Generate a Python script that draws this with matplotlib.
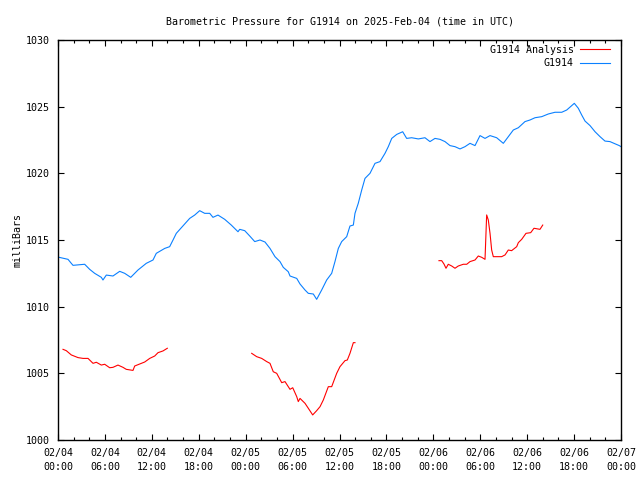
import numpy as np
import matplotlib
matplotlib.use("Agg")
import matplotlib.pyplot as plt
from matplotlib.ticker import MultipleLocator, FixedLocator

# hours since 02/04 00:00 UTC
station_hours = [0.0, 1.28, 1.70, 1.92, 3.41, 4.05, 4.69, 5.54, 5.75, 6.18, 7.03, 7.89, 8.53, 9.30,
                 10.23, 11.29, 12.15, 12.57, 13.65, 14.28, 14.71, 15.13, 16.20, 16.84, 17.48, 18.12,
                 18.76, 19.40, 19.82, 20.46, 21.32, 22.16, 23.02, 23.24, 23.88, 24.52, 25.16, 25.83,
                 26.47, 27.11, 27.75, 28.39, 28.81, 29.45, 29.67, 30.53, 30.95, 31.59, 32.01, 32.65,
                 33.08, 33.72, 34.36, 35.00, 35.42, 35.85, 36.28, 36.92, 37.34, 37.77, 37.98, 38.40,
                 38.84, 39.26, 39.90, 40.54, 41.18, 41.82, 42.24, 42.68, 43.32, 44.08, 44.59, 45.23,
                 46.08, 46.93, 47.57, 48.21, 48.85, 49.49, 50.13, 50.77, 51.41, 52.05, 52.69, 53.33,
                 53.97, 54.61, 55.25, 56.10, 56.95, 57.59, 58.23, 58.87, 59.72, 60.36, 61.00, 61.86,
                 62.70, 63.56, 64.42, 65.06, 65.70, 66.03, 66.54, 66.97, 67.40, 68.04, 68.68, 69.32,
                 69.95, 70.59, 71.10, 71.78, 72.0]
station_mb = [1013.72, 1013.55, 1013.25, 1013.1, 1013.18, 1012.8, 1012.5, 1012.2, 1012.0, 1012.37,
              1012.3, 1012.65, 1012.5, 1012.2, 1012.75, 1013.25, 1013.5, 1014.0, 1014.37, 1014.5,
              1015.0, 1015.5, 1016.2, 1016.62, 1016.87, 1017.2, 1017.0, 1017.0, 1016.7, 1016.87,
              1016.55, 1016.12, 1015.62, 1015.8, 1015.7, 1015.3, 1014.88, 1015.0, 1014.85, 1014.37,
              1013.75, 1013.38, 1012.95, 1012.62, 1012.3, 1012.12, 1011.7, 1011.25, 1011.0, 1010.95,
              1010.55, 1011.25, 1012.0, 1012.5, 1013.38, 1014.37, 1014.88, 1015.25, 1016.05, 1016.12,
              1017.0, 1017.75, 1018.75, 1019.62, 1020.0, 1020.75, 1020.88, 1021.5, 1022.0, 1022.62,
              1022.92, 1023.12, 1022.62, 1022.67, 1022.58, 1022.67, 1022.38, 1022.62, 1022.55, 1022.38,
              1022.08, 1022.0, 1021.83, 1022.0, 1022.25, 1022.08, 1022.83, 1022.62, 1022.83, 1022.67,
              1022.25, 1022.75, 1023.25, 1023.42, 1023.88, 1024.0, 1024.17, 1024.25, 1024.45, 1024.58,
              1024.58, 1024.75, 1025.08, 1025.25, 1024.88, 1024.38, 1023.92, 1023.58, 1023.12, 1022.75,
              1022.42, 1022.38, 1022.25, 1022.08, 1022.0]

analysis1_hours = [0.64, 1.06, 1.70, 2.56, 3.20, 3.84, 4.48, 4.90, 5.54, 5.97, 6.61, 7.03, 7.67, 8.31,
                   8.73, 9.59, 9.81, 10.45, 11.09, 11.73, 12.37, 12.79, 13.43, 13.98]
analysis1_mb = [1006.8, 1006.7, 1006.38, 1006.18, 1006.12, 1006.12, 1005.75, 1005.83, 1005.62, 1005.68,
                1005.42, 1005.45, 1005.62, 1005.45, 1005.3, 1005.22, 1005.55, 1005.7, 1005.85, 1006.12,
                1006.3, 1006.55, 1006.68, 1006.88]
analysis2_hours = [24.77, 25.41, 26.05, 26.69, 27.11, 27.53, 27.97, 28.61, 29.03, 29.67, 30.02, 30.53,
                   30.73, 30.95, 31.59, 32.01, 32.57, 33.08, 33.51, 33.93, 34.57, 35.00, 35.64, 36.06,
                   36.70, 37.00, 37.34, 37.77, 37.98]
analysis2_mb = [1006.5, 1006.25, 1006.12, 1005.88, 1005.75, 1005.12, 1005.0, 1004.3, 1004.38, 1003.8,
                1003.92, 1003.25, 1002.88, 1003.12, 1002.75, 1002.38, 1001.88, 1002.2, 1002.5, 1003.0,
                1004.0, 1004.0, 1005.0, 1005.5, 1005.95, 1006.0, 1006.5, 1007.3, 1007.3]
analysis3_hours = [48.72, 49.07, 49.36, 49.62, 49.91, 50.35, 50.77, 51.19, 51.83, 52.27, 52.69, 53.33,
                   53.75, 54.19, 54.61, 54.82, 55.03, 55.25, 55.46, 55.67, 56.74, 57.17, 57.59, 58.01,
                   58.66, 58.87, 59.30, 59.85, 60.45, 60.87, 61.64, 61.99]
analysis3_mb = [1013.45, 1013.45, 1013.2, 1012.88, 1013.18, 1013.05, 1012.88, 1013.05, 1013.18, 1013.18,
                1013.38, 1013.5, 1013.8, 1013.7, 1013.55, 1016.88, 1016.5, 1015.5, 1014.25, 1013.75,
                1013.75, 1013.88, 1014.25, 1014.2, 1014.5, 1014.8, 1015.05, 1015.5, 1015.55, 1015.88,
                1015.8, 1016.12]

tick_hours = [0, 6, 12, 18, 24, 30, 36, 42, 48, 54, 60, 66, 72]
tick_labels = ["02/04\n00:00", "02/04\n06:00", "02/04\n12:00", "02/04\n18:00",
               "02/05\n00:00", "02/05\n06:00", "02/05\n12:00", "02/05\n18:00",
               "02/06\n00:00", "02/06\n06:00", "02/06\n12:00", "02/06\n18:00",
               "02/07\n00:00"]
y_ticks = [1000, 1005, 1010, 1015, 1020, 1025, 1030]

FONT = "DejaVu Sans Mono"
plt.rcParams['font.family'] = [FONT]
plt.rcParams['font.size'] = 7.2

RED = "#ff0000"
BLUE = "#0a80ff"

fig = plt.figure(figsize=(6.4, 4.8), dpi=100)
ax = fig.add_axes([58/640, 40/480, (621-58)/640, (440-40)/480])

nan = [np.nan]
a_hours = analysis1_hours + nan + analysis2_hours + nan + analysis3_hours
a_mb = analysis1_mb + nan + analysis2_mb + nan + analysis3_mb
ax.plot(a_hours, a_mb, color=RED, lw=0.8, label="G1914 Analysis")
ax.plot(station_hours, station_mb, color=BLUE, lw=0.8, label="G1914")

ax.set_xlim(0, 72)
ax.set_ylim(1000, 1030)
ax.xaxis.set_major_locator(FixedLocator(tick_hours))
ax.set_xticklabels(tick_labels, linespacing=1.45)
ax.xaxis.set_minor_locator(MultipleLocator(2))
ax.set_yticks(y_ticks)
ax.set_yticklabels([str(v) for v in y_ticks])

ax.tick_params(which='both', direction='in', top=True, right=True, color='black', width=0.8)
ax.tick_params(which='major', length=4.0, pad=6)
ax.tick_params(which='minor', length=2.0)
ax.tick_params(axis='y', pad=6)
for s in ax.spines.values():
    s.set_linewidth(1.0)

ax.set_ylabel("milliBars", labelpad=2, fontsize=7.2)
ax.set_title("Barometric Pressure for G1914 on 2025-Feb-04 (time in UTC)", pad=11, fontsize=7.2)

leg = ax.legend(loc='upper right', frameon=False, markerfirst=False, handlelength=3.0,
                handletextpad=0.6, labelspacing=0.35, borderaxespad=0, borderpad=0,
                bbox_to_anchor=(1 - 11/563, 1 - 5/400), fontsize=7.2)
for t in leg.get_texts():
    t.set_ha('right')
leg._legend_box.align = "right"

fig.savefig("out.png", dpi=100)
